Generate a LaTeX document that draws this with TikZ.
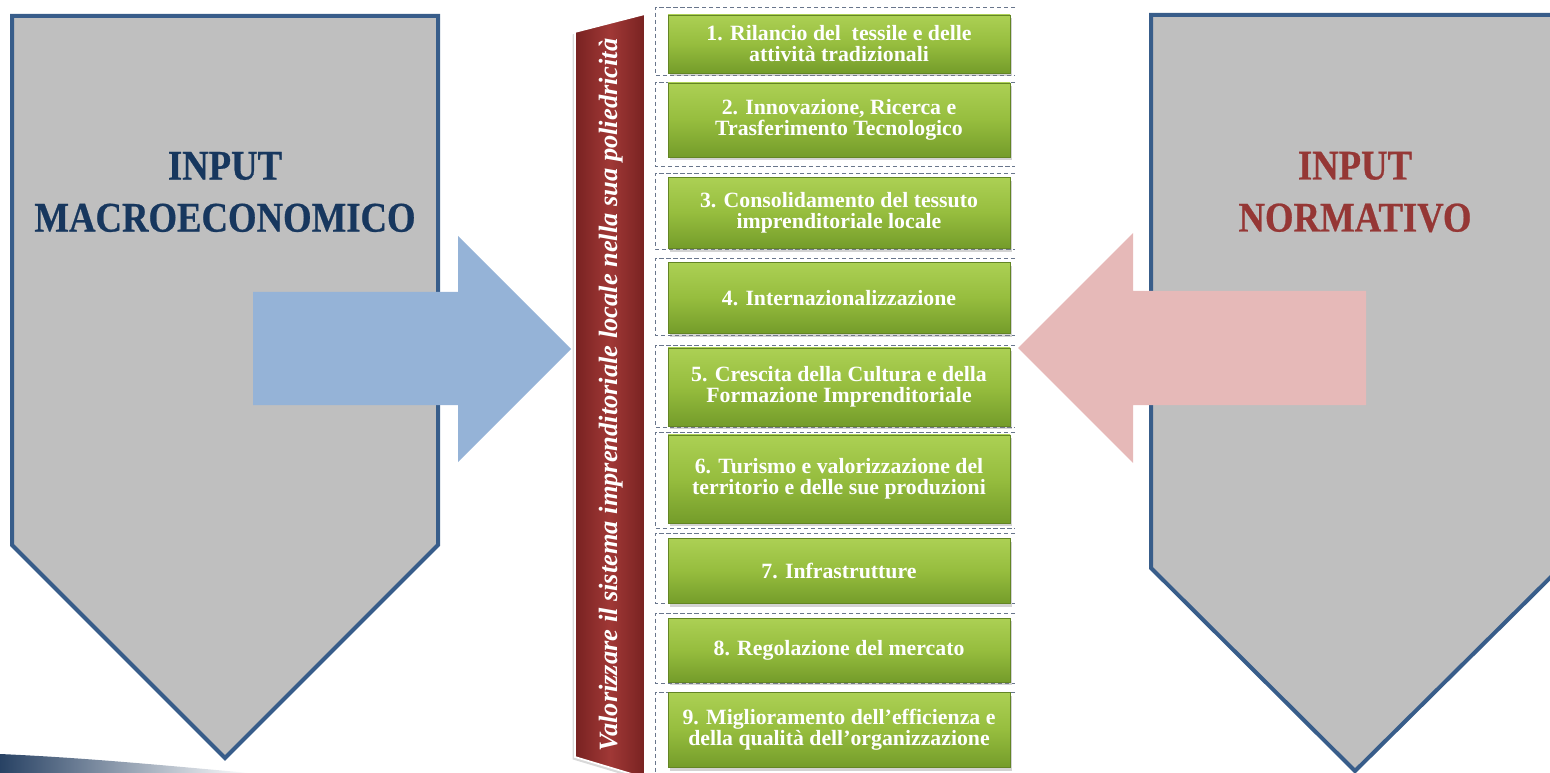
\documentclass[tikz,border=0pt]{standalone}
\usepackage{fontspec}
\setmainfont{Liberation Serif}
\newfontfamily\titlefont[FakeStretch=0.87,FakeBold=0.6]{Liberation Serif}
\usetikzlibrary{shadows}
\definecolor{frameblue}{RGB}{56,93,138}
\definecolor{panelgray}{RGB}{191,191,191}
\definecolor{macroblue}{RGB}{23,55,94}
\definecolor{normred}{RGB}{149,55,53}
\definecolor{arrowblue}{RGB}{149,179,215}
\definecolor{arrowpink}{RGB}{230,185,184}
\definecolor{leaftop}{RGB}{172,208,84}
\definecolor{leafmid}{RGB}{150,189,62}
\definecolor{leafbot}{RGB}{116,156,42}
\definecolor{bannerdark}{RGB}{120,34,33}
\definecolor{bannermid}{RGB}{160,56,54}
\definecolor{dashgray}{RGB}{105,118,140}
\definecolor{swoosh}{RGB}{40,66,100}
\tikzset{
  panel/.style={fill=panelgray, draw=frameblue, line width=1mm, line join=miter},
  title/.style={font=\titlefont\bfseries\fontsize{30}{37}\selectfont, align=center},
  goal/.style={top color=leaftop, bottom color=leafbot, middle color=leafmid,
    draw=leafbot!85!black, line width=0.4pt, minimum width=85.5mm, minimum height=#1,
    text=white, align=center, font=\bfseries\fontsize{15.5}{15}\selectfont,
    drop shadow={opacity=0.35, shadow xshift=0.6mm, shadow yshift=-0.8mm}},
  slot/.style={draw=dashgray, densely dashed, line width=0.4pt},
  banner/.style={left color=bannerdark, right color=bannerdark, middle color=bannermid,
    draw=white, line width=1.2pt,
    drop shadow={opacity=0.3, shadow xshift=-0.6mm, shadow yshift=-0.6mm}}
}
\begin{document}
\begin{tikzpicture}[x=0.25mm, y=-0.25mm]
            \clip (0,0) rectangle (1550,773);

            \shade[left color=swoosh, right color=white] (0,754) .. controls (90,758) and (170,766) .. (250,773) -- (0,773) -- cycle;

            \path[panel] (12,16) -- (438,16) -- (438,545) -- (225,758) -- (12,545) -- cycle;
            \path[panel] (1151,15) -- (1560,15) -- (1560,568) -- (1355,771) -- (1151,568) -- cycle;

            \node[title, text=macroblue] (macro) at (225,192) {INPUT\\MACROECONOMICO};
            \node[title, text=normred] (norm) at (1355,192) {INPUT\\NORMATIVO};

            \fill[arrowblue] (253,292) -- (458,292) -- (458,236) -- (571,349) -- (458,462) -- (458,405) -- (253,405) -- cycle;
            \fill[arrowpink] (1366,291) -- (1133,291) -- (1133,233) -- (1018,348) -- (1133,463) -- (1133,405) -- (1366,405) -- cycle;

            \draw[slot] (1015,7) -| (655,75) -- (1015,75);
            \draw[slot] (1015,82) -| (655,166) -- (1015,166);
            \draw[slot] (1015,173) -| (655,249) -- (1015,249);
            \draw[slot] (1015,258) -| (655,335) -- (1015,335);
            \draw[slot] (1015,345) -| (655,427) -- (1015,427);
            \draw[slot] (1015,432) -| (655,528) -- (1015,528);
            \draw[slot] (1015,533) -| (655,603) -- (1015,603);
            \draw[slot] (1015,613) -| (655,683) -- (1015,683);
            \draw[slot] (1015,692) -| (655,775);

            \node[goal=14.5mm] (g1) at (839,44) {1. Rilancio del \ tessile e delle\\attività tradizionali};
            \node[goal=18.5mm] (g2) at (839,120) {2. Innovazione, Ricerca e\\Trasferimento Tecnologico};
            \node[goal=17.8mm] (g3) at (839,213) {3. Consolidamento del tessuto\\imprenditoriale locale};
            \node[goal=17.8mm] (g4) at (839,298) {4. Internazionalizzazione};
            \node[goal=19.5mm] (g5) at (839,387) {5. Crescita della Cultura e della\\Formazione Imprenditoriale};
            \node[goal=22mm] (g6) at (839,479) {6. Turismo e valorizzazione del\\territorio e delle sue produzioni};
            \node[goal=16.3mm] (g7) at (839,571) {7. Infrastrutture};
            \node[goal=16mm] (g8) at (839,650) {8. Regolazione del mercato};
            \node[goal=18.8mm] (g9) at (839,730) {9. Miglioramento dell’efficienza e\\della qualità dell’organizzazione};

            \path[banner] (575,32) -- (645,14) -- (645,778) -- (575,757) -- cycle;
            \node[rotate=90, text=white, font=\bfseries\itshape\fontsize{18.8}{18.8}\selectfont] (motto) at (611,395) {Valorizzare il sistema imprenditoriale locale nella sua poliedricità};

        \end{tikzpicture}
\end{document}
